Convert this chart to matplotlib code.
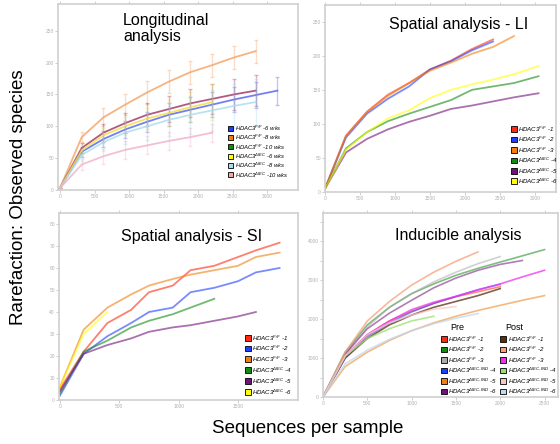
import matplotlib
matplotlib.use("Agg")
import matplotlib.pyplot as plt
from matplotlib.patches import Rectangle
import numpy as np

plt.rcParams['font.family'] = ['Liberation Sans', 'DejaVu Sans']
plt.rcParams['mathtext.fontset'] = 'custom'
plt.rcParams['mathtext.it'] = 'Liberation Sans:italic'
plt.rcParams['mathtext.rm'] = 'Liberation Sans:italic'

W, H = 560, 444

# ---------------- Data ----------------
# Panel 1: Longitudinal analysis (with error bars)
long_x = [0, 315, 630, 945, 1260, 1575, 1890, 2205, 2520, 2835, 3150]
long_labels = ["HDAC3$^{F/F}$ -6 wks", "HDAC3$^{F/F}$ -8 wks", "HDAC3$^{F/F}$ -10 wks",
               "HDAC3$^{\\Delta IEC}$ -6 wks", "HDAC3$^{\\Delta IEC}$ -8 wks", "HDAC3$^{\\Delta IEC}$ -10 wks"]
long_legend_colors = ["#1f3fff", "#f07f10", "#138a13", "#ffff00", "#a8dcef", "#f0a8a8"]
long_line_colors = ["#5060f0", "#f5a060", "#a03060", "#f0e040", "#a8dcef", "#f0b0c8"]
long_blue = [3, 60, 80, 95, 107, 118, 126, 134, 142, 149, 156]
long_orange = [3, 83, 114, 134, 153, 170, 185, 196, 208, 218]
long_red = [3, 66, 90, 105, 118, 127, 136, 143, 150, 156]
long_yellow = [3, 62, 86, 100, 112, 121, 130, 138]
long_lblue = [3, 55, 75, 90, 100, 110, 118, 125, 132, 138]
long_pink = [3, 40, 53, 63, 70, 77, 83, 90]
long_series = [long_blue, long_orange, long_red, long_yellow, long_lblue, long_pink]
long_err_blue = [0, 8, 12, 14, 16, 18, 20, 20, 20, 20, 22]
long_err_orange = [0, 8, 14, 16, 18, 18, 18, 18, 18, 18]
long_err_red = [0, 8, 14, 16, 18, 20, 22, 24, 24, 24]
long_err_yellow = [0, 8, 12, 14, 16, 20, 24, 28]
long_err_lblue = [0, 10, 14, 18, 22, 26, 30, 32, 34, 36]
long_err_pink = [0, 8, 12, 14, 14, 14, 14, 14]
long_errs = [long_err_blue, long_err_orange, long_err_red, long_err_yellow, long_err_lblue, long_err_pink]

# Panel 2: Spatial analysis - LI
li_x = [0, 300, 600, 900, 1200, 1500, 1800, 2100, 2400, 2700, 3050]
li_labels = ["HDAC3$^{F/F}$ -1", "HDAC3$^{F/F}$ -2", "HDAC3$^{F/F}$ -3",
             "HDAC3$^{\\Delta IEC}$ -4", "HDAC3$^{\\Delta IEC}$ -5", "HDAC3$^{\\Delta IEC}$ -6"]
li_colors = ["#ff2a10", "#1f3fff", "#f07f10", "#138a13", "#70127a", "#ffff00"]
li_red = [5, 83, 118, 143, 160, 180, 193, 210, 224]
li_blue = [5, 80, 115, 137, 155, 180, 192, 208, 221]
li_orange = [5, 82, 117, 141, 160, 178, 190, 203, 213, 229]
li_green = [5, 64, 88, 104, 115, 125, 135, 150, 155, 160, 170]
li_purple = [5, 58, 78, 92, 103, 112, 122, 127, 133, 139, 145]
li_yellow = [5, 62, 88, 108, 120, 138, 150, 158, 165, 173, 185]
li_series = [li_red, li_blue, li_orange, li_green, li_purple, li_yellow]

# Panel 3: Spatial analysis - SI
si_x = [0, 200, 400, 600, 750, 950, 1100, 1300, 1500, 1650, 1850]
si_labels = li_labels
si_colors = li_colors
si_red = [5, 22, 35, 41, 49, 52, 59, 61, 65, 68, 71.5]
si_blue = [2, 21, 29, 35, 40, 42, 49, 51, 54, 58, 60]
si_orange = [6, 32, 42, 48, 52, 55, 57, 59, 61, 65, 67]
si_green = [3, 22, 27, 33, 36, 39, 42, 46]
si_purple = [4, 21, 25, 28, 31, 33, 34, 36, 38, 40]
si_yellow = [6, 30, 40]
si_series = [si_red, si_blue, si_orange, si_green, si_purple, si_yellow]

# Panel 4: Inducible analysis
ind_x = [0, 250, 500, 750, 1000, 1250, 1500, 1750, 2000, 2250, 2500]
ind_pre_labels = ["HDAC3$^{F/F}$ -1", "HDAC3$^{F/F}$ -2", "HDAC3$^{F/F}$ -3",
                  "HDAC3$^{\\Delta IEC\\text{-}IND}$ -4", "HDAC3$^{\\Delta IEC\\text{-}IND}$ -5",
                  "HDAC3$^{\\Delta IEC\\text{-}IND}$ -6"]
ind_pre_colors = ["#ff2a10", "#138a13", "#aaaaaa", "#1f3fff", "#f07f10", "#70127a"]
ind_post_colors = ["#5a2d0c", "#f7a07a", "#f030f0", "#98e070", "#f3c8c8", "#c0d8f0"]
ind_pre1 = [0, 1050, 1600, 1950, 2200, 2400, 2570, 2700, 2830]
ind_pre2 = [0, 1150, 1850, 2300, 2650, 2900, 3120, 3300, 3460, 3620, 3780]
ind_pre3 = [0, 1100, 1800, 2300, 2650, 2950, 3200, 3420, 3600]
ind_pre4 = [0, 1000, 1550, 1900, 2180, 2400, 2580, 2750, 2890]
ind_pre5 = [0, 780, 1150, 1450, 1700, 1900, 2070, 2220, 2350, 2480, 2600]
ind_pre6 = [0, 1100, 1750, 2150, 2480, 2800, 3050, 3250, 3400, 3500]
ind_post1 = [0, 1000, 1500, 1850, 2100, 2300, 2450, 2600, 2780]
ind_post2 = [0, 1150, 1950, 2450, 2870, 3200, 3480, 3720]
ind_post3 = [0, 1050, 1600, 1950, 2240, 2430, 2580, 2750, 2900, 3080, 3250]
ind_post4 = [0, 1050, 1500, 1750, 1950, 2070]
ind_post5 = [0, 1050, 1600, 1900, 2100, 2250, 2320]
ind_post6 = [0, 850, 1200, 1480, 1700, 1880, 2020, 2140]
ind_pre = [ind_pre1, ind_pre2, ind_pre3, ind_pre4, ind_pre5, ind_pre6]
ind_post = [ind_post1, ind_post2, ind_post3, ind_post4, ind_post5, ind_post6]

# ---------------- Drawing ----------------
fig = plt.figure(figsize=(W / 100, H / 100), dpi=100)


def make_ax(left, right, top, bottom, xlim, ylim, xticks, yticks, yminor=None):
    ax = fig.add_axes([left / W, (H - bottom) / H, (right - left) / W, (bottom - top) / H])
    ax.set_xlim(*xlim)
    ax.set_ylim(*ylim)
    for s in ax.spines.values():
        s.set_color("#d0d0d0")
        s.set_linewidth(1.2)
    ax.set_xticks(xticks)
    ax.set_yticks(yticks)
    if yminor is not None:
        ax.set_yticks(yminor, minor=True)
    ax.tick_params(axis="both", labelsize=3.5, labelcolor="#b0b0b0", color="#c8c8c8",
                   length=2, width=0.6, pad=1)
    ax.tick_params(which="minor", length=2, color="#c8c8c8", width=0.6)
    ax.tick_params(top=True, right=False)
    return ax


def legend(x_sq, y_rows, colors, labels, fs=4.6, sq=5.5):
    for y, c, lab in zip(y_rows, colors, labels):
        fig.add_artist(Rectangle(((x_sq) / W, (H - y - sq / 2) / H), sq / W, sq / H,
                                 facecolor=c, edgecolor="black", linewidth=0.6,
                                 transform=fig.transFigure))
        fig.text((x_sq + sq + 2) / W, (H - y) / H, lab, fontsize=fs, style="italic",
                 va="center", ha="left", color="black")


# Panel 1
ax1 = make_ax(58, 298, 4, 190, (-29, 3449), (0, 292),
              [0, 500, 1000, 1500, 2000, 2500, 3000], [0, 50, 100, 150, 200, 250])
for ys, es, c in zip(long_series, long_errs, long_line_colors):
    n = len(ys)
    ax1.errorbar(long_x[:n], ys, yerr=es, fmt="none", ecolor=c, elinewidth=1.0,
                 capsize=1.5, alpha=0.35)
    ax1.plot(long_x[:n], ys, color=c, lw=1.3, alpha=0.8)
fig.text(123 / W, (H - 13) / H, "Longitudinal\nanalysis", fontsize=11.5,
         va="top", ha="left", linespacing=1.05)
legend(228, [128, 137.5, 147, 156.5, 165.5, 175], long_legend_colors, long_labels, fs=4.2, sq=5)

# Panel 2
ax2 = make_ax(325, 556, 5, 192, (0, 3300), (0, 274.6),
              [0, 500, 1000, 1500, 2000, 2500, 3000], [0, 50, 100, 150, 200, 250])
for ys, c in zip(li_series, li_colors):
    ax2.plot(li_x[:len(ys)], ys, color=c, lw=1.3, alpha=0.6)
fig.text(389 / W, (H - 17) / H, "Spatial analysis - LI", fontsize=11.5,
         va="top", ha="left")
legend(511, [129, 139.5, 150, 160.5, 171, 181], li_colors, li_labels, fs=4.4, sq=5.5)

# Panel 3
ax3 = make_ax(59, 298, 213, 400, (-8, 2005), (0, 85),
              [0, 500, 1000, 1500], [0, 10, 20, 30, 40, 50, 60, 70, 80])
for ys, c in zip(si_series, si_colors):
    ax3.plot(si_x[:len(ys)], ys, color=c, lw=1.3, alpha=0.6)
fig.text(121 / W, (H - 229) / H, "Spatial analysis - SI", fontsize=11.5,
         va="top", ha="left")
legend(245, [338, 348.5, 359, 370, 381, 392], si_colors, si_labels, fs=4.4, sq=5.5)

# Panel 4
ax4 = make_ax(323, 558, 213, 397, (0, 2652), (0, 4718),
              [0, 500, 1000, 1500, 2000, 2500], [0, 1000, 2000, 3000, 4000],
              yminor=[500, 1500, 2500, 3500, 4500])
for ys, c in zip(ind_pre, ind_pre_colors):
    ax4.plot(ind_x[:len(ys)], ys, color=c, lw=1.2, alpha=0.55)
for ys, c in zip(ind_post, ind_post_colors):
    ax4.plot(ind_x[:len(ys)], ys, color=c, lw=1.2, alpha=0.75)
fig.text(395 / W, (H - 228) / H, "Inducible analysis", fontsize=11.5,
         va="top", ha="left")
rows4 = [339, 349.5, 360, 370.5, 381, 391.5]
legend(441, rows4, ind_pre_colors, ind_pre_labels, fs=4.4, sq=5.5)
legend(500, rows4, ind_post_colors, ind_pre_labels, fs=4.4, sq=5.5)
fig.text(457 / W, (H - 327) / H, "Pre", fontsize=6.5, ha="center", va="center")
fig.text(514 / W, (H - 327) / H, "Post", fontsize=6.5, ha="center", va="center")

# Shared labels
fig.text(19 / W, (H - 197) / H, "Rarefaction: Observed species", rotation=90,
         fontsize=13.5, ha="center", va="center")
fig.text(308 / W, (H - 428) / H, "Sequences per sample", fontsize=13.5,
         ha="center", va="center")

fig.savefig("out.png", dpi=100)
